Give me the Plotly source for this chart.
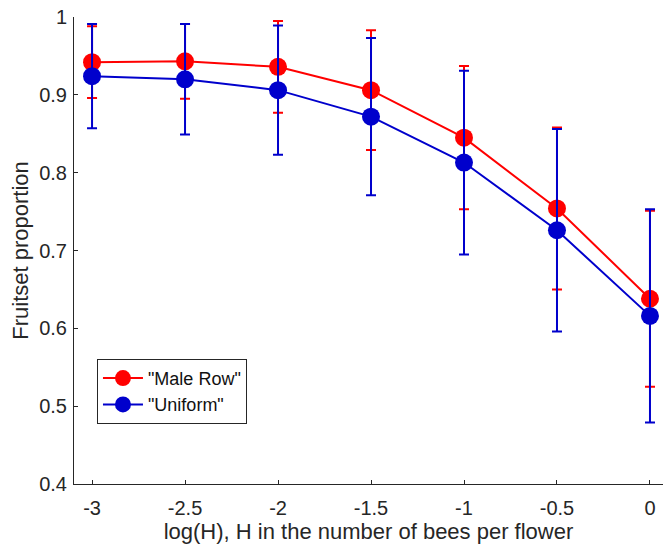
import plotly.graph_objects as go

x_vals = [-3, -2.5, -2, -1.5, -1, -0.5, 0]
male_row = [0.942, 0.943, 0.936, 0.906, 0.845, 0.754, 0.638]
male_row_err = [0.046, 0.048, 0.059, 0.077, 0.092, 0.104, 0.113]
uniform = [0.924, 0.920, 0.906, 0.872, 0.813, 0.726, 0.616]
uniform_err = [0.067, 0.071, 0.083, 0.101, 0.118, 0.130, 0.137]
x_ticks = [-3, -2.5, -2, -1.5, -1, -0.5, 0]
x_tick_text = ["-3", "-2.5", "-2", "-1.5", "-1", "-0.5", "0"]
y_ticks = [0.4, 0.5, 0.6, 0.7, 0.8, 0.9, 1.0]
y_tick_text = ["0.4", "0.5", "0.6", "0.7", "0.8", "0.9", "1"]

RED = "#ff0000"
BLUE = "#0000cc"

fig = go.Figure()
fig.add_trace(go.Scatter(
    x=x_vals, y=male_row, name='"Male Row"', mode="lines+markers",
    line=dict(color=RED, width=2),
    marker=dict(color=RED, size=18, symbol="circle"),
    error_y=dict(type="data", array=male_row_err, visible=True,
                 color=RED, thickness=2, width=5),
    cliponaxis=False,
))
fig.add_trace(go.Scatter(
    x=x_vals, y=uniform, name='"Uniform"', mode="lines+markers",
    line=dict(color=BLUE, width=2),
    marker=dict(color=BLUE, size=18, symbol="circle"),
    error_y=dict(type="data", array=uniform_err, visible=True,
                 color=BLUE, thickness=2, width=5),
    cliponaxis=False,
))

axis_color = "#262626"
fig.update_layout(
    width=663, height=545,
    margin=dict(l=74, r=0, t=17, b=61, autoexpand=False),
    paper_bgcolor="white", plot_bgcolor="white",
    font=dict(family="Liberation Sans, Arial, sans-serif", color=axis_color, size=20),
    showlegend=True,
    legend=dict(x=0.039, y=0.268, xanchor="left", yanchor="top",
                bordercolor="#262626", borderwidth=1, bgcolor="white",
                font=dict(size=18, color="#111111"), tracegroupgap=0,
                itemwidth=40),
    xaxis=dict(range=[-3.097, 0.07], tickvals=x_ticks, ticktext=x_tick_text,
               automargin=False,
               showgrid=False, zeroline=False, showline=True, linecolor=axis_color,
               linewidth=1, ticks="inside", ticklen=4, tickcolor=axis_color,
               tickfont=dict(size=20), ticklabelstandoff=6,
               title=dict(text="log(H), H in the number of bees per flower",
                          font=dict(size=22), standoff=2)),
    yaxis=dict(range=[0.4, 1.0], tickvals=y_ticks, ticktext=y_tick_text,
               automargin=False,
               showgrid=False, zeroline=False, showline=True, linecolor=axis_color,
               linewidth=1, ticks="inside", ticklen=4, tickcolor=axis_color,
               tickfont=dict(size=20), ticklabelstandoff=2,
               title=dict(text="Fruitset proportion", font=dict(size=22), standoff=4)),
)

fig.write_html("out.html", config={"displayModeBar": False},
               post_script="document.body.style.margin='0px';")
